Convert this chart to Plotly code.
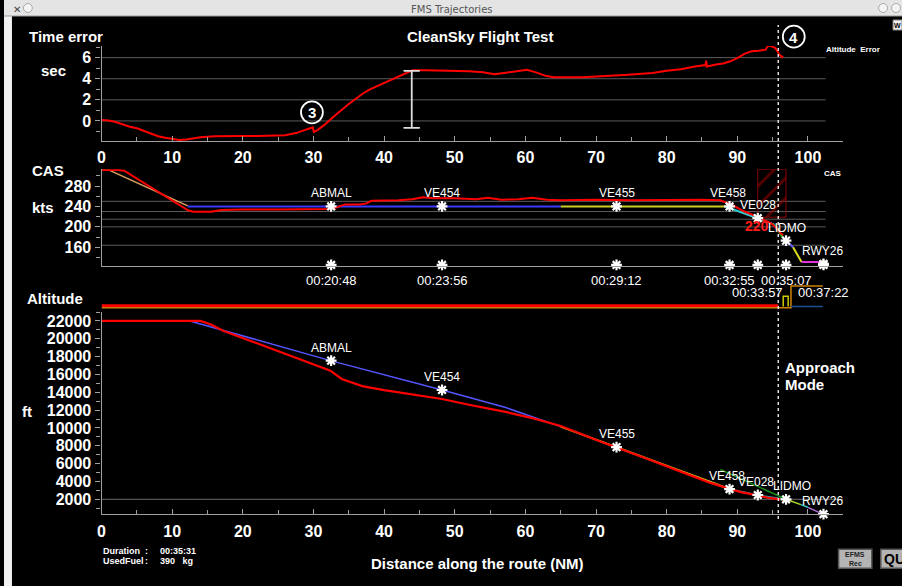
import plotly.graph_objects as go

W, H = 902, 586
def px(v): return v / W
def py(v): return 1 - v / H

# ---------------- data ----------------
te_x = [0, 1, 2, 3, 4, 5, 6, 7, 8, 9, 10, 11, 12, 13, 14, 16, 18, 20, 22, 24, 26, 27.5, 29, 29.9, 30.05,
        30.6, 31.5, 33, 35, 37, 38, 40, 41.5, 43, 44, 46, 48, 50, 52, 54, 55.6, 57, 59, 60.2, 61.5, 63, 64,
        66, 68, 70, 72, 74, 76, 78, 80, 82, 84, 85.5, 85.6, 85.7, 87, 88, 89, 90, 91, 92, 93, 94, 94.4,
        94.7, 95.4, 96, 96.5]
te_y = [0.1, 0.05, -0.1, -0.35, -0.55, -0.7, -0.95, -1.2, -1.45, -1.6, -1.7, -1.8, -1.75, -1.65, -1.55,
        -1.45, -1.4, -1.42, -1.43, -1.42, -1.35, -1.15, -0.85, -0.6, -1.05, -0.85, -0.4, 0.5, 1.6, 2.6,
        3.0, 3.6, 4.1, 4.55, 4.8, 4.8, 4.78, 4.75, 4.7, 4.62, 4.42, 4.55, 4.75, 4.85, 4.6, 4.25, 4.15,
        4.12, 4.15, 4.2, 4.25, 4.35, 4.45, 4.55, 4.75, 4.9, 5.15, 5.3, 5.7, 5.15, 5.35, 5.45, 5.65, 5.95,
        6.35, 6.6, 6.65, 6.75, 7.2, 7.1, 6.9, 6.25, 6.0]
errbar_x = [43.9]
errbar_top = [4.76]
errbar_bottom = [-0.64]

cas_x = [0, 2.3, 3.2, 12.3, 13.0, 14.0, 15.5, 17, 20, 25, 30, 32, 33, 34.5, 36.5, 37.5, 38.2, 42, 44,
         45.5, 47, 50, 53, 54.7, 56.6, 59, 61, 63, 65, 70, 75, 80, 85, 87.6, 89.4, 91, 93, 94.9, 95.6,
         96.1, 96.5]
cas_y = [311.5, 311.5, 310, 232, 229.5, 230, 229.5, 233, 234, 234, 234, 235, 237, 244, 244, 246, 251,
         252, 254, 258, 256, 256, 254, 257, 253, 254, 257, 253, 252, 253, 252, 253, 253, 252, 242, 230,
         219, 206, 197, 188, 184]

cas_orange_x, cas_orange_y = [1.0, 12.2], [311.5, 241]
cas_green0_x, cas_green0_y = [0, 1.0], [311.5, 311.5]
cas_blue_x, cas_blue_y = [12.2, 65.0], [240, 240]
cas_yellow_x, cas_yellow_y = [65.0, 88.3], [240, 240]
cas_cyan_x, cas_cyan_y = [88.3, 92.9, 95.2], [240, 217, 205]
cas_green_x, cas_green_y = [95.2, 96.5], [205, 178]
cas_violet_x, cas_violet_y = [96.5, 97.9], [178, 160]
cas_yellow2_x, cas_yellow2_y = [97.9, 99.1], [160, 131]
cas_magenta_x, cas_magenta_y = [99.1, 102.2], [131, 131]
cas_grid = [250, 230, 215, 200, 164]
constraint_box_x = [92.9, 96.9]
constraint_box_y = [219, 312.5]

alt_x = [0, 14, 15.5, 17.2, 21.4, 25, 28.5, 32.4, 34, 36.9, 40, 44, 48.2, 52, 57, 61, 65, 70.7, 73,
         77.7, 82, 86, 88.8, 90.5, 92.7, 94.5, 96.1]
alt_y = [22000, 22000, 21600, 20900, 19680, 18600, 17625, 16425, 15500, 14700, 14250, 13750, 13250,
         12600, 11830, 11100, 10220, 8460, 7800, 6400, 5100, 3900, 3200, 2800, 2460, 2150, 2000]
alt_blue_x, alt_blue_y = [12.5, 32.4, 48.2, 57.1, 65.0], [22000, 17550, 14260, 12320, 10150]
alt_yellow_x, alt_yellow_y = [65.0, 72.9, 88.9], [10150, 7850, 3150]
alt_dkgreen_x, alt_dkgreen_y = [87.6, 96.9], [5340, 2000]
alt_teal_x, alt_teal_y = [88.9, 92.9, 96.9], [3150, 2480, 2000]
alt_lime_x, alt_lime_y = [96.9, 99.0], [2000, 1400]
alt_cyan_x, alt_cyan_y = [99.0, 100.0], [1400, 1100]
alt_violet_x, alt_violet_y = [100.0, 102.1], [1100, 330]

strip_orange_x, strip_orange_y = [0, 97.6, 97.6, 102.1], [-0.12, -0.12, 2, 2]
strip_yellow_x, strip_yellow_y = [96.5, 96.5, 97.2, 97.2], [0, 1, 1, 0]
strip_blue_x, strip_blue_y = [97.6, 102.1], [0, 0]
strip_red_x, strip_red_y = [0, 95.8], [0.08, 0.08]

wp_names = ["ABMAL", "VE454", "VE455", "VE458", "VE028", "LIDMO", "RWY26"]
wp_x = [32.5, 48.2, 72.9, 88.9, 92.9, 96.9, 102.2]
wp_cas = [240, 240, 240, 240, 217, 173, 127.5]
wp_alt = [17550, 14260, 7850, 3150, 2480, 2000, 330]
wp_time = ["00:20:48", "00:23:56", "00:29:12", "00:32:55", "00:33:57", "00:35:07", "00:37:22"]
wp_time_row = [0, 0, 0, 0, 1, 0, 1]
cas_label_dx = [0, 0, 0, -0.2, 0, 0.1, -0.1]
alt_label_dx = [0, 0, 0, -0.3, -0.2, 0.8, -0.1]

te_grid = [0, 2, 4, 6]
alt_grid = [2000]
approach_x = 95.8
grid_end = 102.5
X_MAX = 105

# ---------------- figure ----------------
fig = go.Figure()
RED = "#ff0000"
WHITE = "white"
STAR = dict(symbol="asterisk-open", size=9, color=WHITE, line=dict(color=WHITE, width=2.2))

def line(x, y, color, width, xa="x", ya="y", dash=None):
    fig.add_trace(go.Scatter(x=x, y=y, mode="lines", xaxis=xa, yaxis=ya, hoverinfo="skip",
                             line=dict(color=color, width=width, dash=dash), showlegend=False))

# Top panel
line(te_x, te_y, RED, 2)
fig.add_trace(go.Scatter(x=errbar_x, y=errbar_top, mode="markers", xaxis="x", yaxis="y",
                         marker=dict(size=1, color="rgba(0,0,0,0)"), showlegend=False, hoverinfo="skip",
                         error_y=dict(type="data", symmetric=False, array=[0],
                                      arrayminus=[errbar_top[0] - errbar_bottom[0]],
                                      color="#dddddd", thickness=1.5, width=8)))
fig.add_trace(go.Scatter(x=errbar_x, y=errbar_bottom, mode="markers", xaxis="x", yaxis="y",
                         marker=dict(size=1, color="rgba(0,0,0,0)"), showlegend=False, hoverinfo="skip",
                         error_y=dict(type="data", symmetric=False, array=[errbar_top[0] - errbar_bottom[0]],
                                      arrayminus=[0], color="#dddddd", thickness=1.5, width=8)))

# CAS panel
fig.add_trace(go.Scatter(
    x=[constraint_box_x[0], constraint_box_x[1], constraint_box_x[1], constraint_box_x[0], constraint_box_x[0]],
    y=[constraint_box_y[1], constraint_box_y[1], constraint_box_y[0], constraint_box_y[0], constraint_box_y[1]],
    mode="lines", fill="toself", xaxis="x2", yaxis="y2", hoverinfo="skip", showlegend=False,
    line=dict(color="#8b0000", width=1), fillcolor="rgba(0,0,0,0)",
    fillpattern=dict(shape="/", fgcolor="#b00000", bgcolor="rgba(0,0,0,0)", size=14, solidity=0.2)))
line(cas_green0_x, cas_green0_y, "#22aa22", 2, "x2", "y2")
line(cas_orange_x, cas_orange_y, "#e0a060", 1.5, "x2", "y2")
line(cas_blue_x, cas_blue_y, "#3a3aff", 2, "x2", "y2")
line(cas_yellow_x, cas_yellow_y, "#cccc22", 2, "x2", "y2")
line(cas_cyan_x, cas_cyan_y, "#33cccc", 2, "x2", "y2")
line(cas_green_x, cas_green_y, "#22cc22", 2, "x2", "y2")
line(cas_violet_x, cas_violet_y, "#6060ff", 2, "x2", "y2")
line(cas_yellow2_x, cas_yellow2_y, "#dddd22", 2, "x2", "y2")
line(cas_magenta_x, cas_magenta_y, "#dd33dd", 2, "x2", "y2")
line(cas_x, cas_y, RED, 2, "x2", "y2")
fig.add_trace(go.Scatter(x=wp_x, y=wp_cas, mode="markers", xaxis="x2", yaxis="y2", cliponaxis=False,
                         marker=STAR, showlegend=False, hoverinfo="skip"))
fig.add_trace(go.Scatter(x=wp_x, y=[125.5] * len(wp_x), mode="markers", xaxis="x2", yaxis="y2",
                         cliponaxis=False, marker=STAR, showlegend=False, hoverinfo="skip"))

# Mode strip
line(strip_orange_x, strip_orange_y, "#d08000", 1.5, "x4", "y4")
line(strip_blue_x, strip_blue_y, "#1f4f8f", 1.5, "x4", "y4")
line(strip_yellow_x, strip_yellow_y, "#cccc00", 1.5, "x4", "y4")
line(strip_red_x, strip_red_y, RED, 2.6, "x4", "y4")

# Altitude panel
line(alt_blue_x, alt_blue_y, "#5555ff", 1.5, "x3", "y3")
line(alt_yellow_x, alt_yellow_y, "#dddd22", 2, "x3", "y3")
line(alt_dkgreen_x, alt_dkgreen_y, "#1a8a1a", 1.5, "x3", "y3")
line(alt_teal_x, alt_teal_y, "#2a9aa0", 1.5, "x3", "y3")
line(alt_lime_x, alt_lime_y, "#aadd22", 1.5, "x3", "y3")
line(alt_cyan_x, alt_cyan_y, "#33cccc", 1.5, "x3", "y3")
line(alt_violet_x, alt_violet_y, "#b070d0", 1.5, "x3", "y3")
line(alt_x, alt_y, RED, 2.2, "x3", "y3")
fig.add_trace(go.Scatter(x=wp_x, y=wp_alt, mode="markers", xaxis="x3", yaxis="y3", cliponaxis=False,
                         marker=STAR, showlegend=False, hoverinfo="skip"))

# ---------------- shapes ----------------
shapes = []
GRID = "#5c5c5c"
for g in te_grid:
    shapes.append(dict(type="line", xref="x", yref="y", x0=0, x1=grid_end, y0=g, y1=g,
                       line=dict(color=GRID, width=1), layer="below"))
for g in cas_grid:
    shapes.append(dict(type="line", xref="x2", yref="y2", x0=0, x1=grid_end, y0=g, y1=g,
                       line=dict(color=GRID, width=1), layer="below"))
for g in alt_grid:
    shapes.append(dict(type="line", xref="x3", yref="y3", x0=0, x1=X_MAX, y0=g, y1=g,
                       line=dict(color="#6a6a6a", width=1), layer="below"))
# approach mode vertical dotted line
shapes.append(dict(type="line", xref="x", yref="paper", x0=approach_x, x1=approach_x,
                   y0=py(519), y1=py(25), line=dict(color="#e0e0e0", width=1.5, dash="dot")))
# title bar & window frame
shapes.append(dict(type="rect", xref="paper", yref="paper", x0=0, x1=1, y0=py(16), y1=1,
                   fillcolor="#e4e4e4", line=dict(width=0), layer="below"))
shapes.append(dict(type="line", xref="paper", yref="paper", x0=0, x1=1, y0=py(16), y1=py(16),
                   line=dict(color="#9a9a9a", width=1)))
shapes.append(dict(type="rect", xref="paper", yref="paper", x0=0, x1=px(8), y0=0, y1=py(16),
                   fillcolor="#f2f2f2", line=dict(width=0), layer="below"))
for cx in [24, 883, 896]:
    shapes.append(dict(type="circle", xref="paper", yref="paper", x0=px(cx - 4.5), x1=px(cx + 4.5),
                       y0=py(12.5), y1=py(3.5), line=dict(color="#aaaaaa", width=1), fillcolor="#f4f4f4"))
# numbered circles
for (cx, cy) in [(309.3, 112.3), (793.3, 36.7)]:
    shapes.append(dict(type="circle", xref="paper", yref="paper", x0=px(cx - 11), x1=px(cx + 11),
                       y0=py(cy + 11), y1=py(cy - 11), line=dict(color=WHITE, width=1.8)))
# buttons
shapes.append(dict(type="rect", xref="paper", yref="paper", x0=px(838.3), x1=px(871.7), y0=py(568.3),
                   y1=py(549.3), fillcolor="#b4b4b4", line=dict(color="#555555", width=1.5)))
shapes.append(dict(type="rect", xref="paper", yref="paper", x0=px(880.7), x1=px(905), y0=py(568.3),
                   y1=py(549.3), fillcolor="#b4b4b4", line=dict(color="#555555", width=1.5)))
shapes.append(dict(type="rect", xref="paper", yref="paper", x0=px(893), x1=px(902), y0=py(30),
                   y1=py(20), fillcolor="#f0f0f0", line=dict(color="#888888", width=1)))

# ---------------- annotations ----------------
ann = []
def text(xp, yp, s, size=15, color=WHITE, bold=True, xanchor="center", family="Liberation Sans"):
    ann.append(dict(xref="paper", yref="paper", x=px(xp), y=py(yp), text=s, showarrow=False,
                    xanchor=xanchor, yanchor="middle",
                    font=dict(size=size, color=color, family=family, weight="bold" if bold else "normal")))

text(450, 9, "FMS Trajectories", size=10, color="#555555", bold=False, family="DejaVu Sans")
text(13, 9, "✕", size=10, color="#444444", bold=False, family="DejaVu Sans")
text(897.5, 25.5, "W", size=7, color="#000000")
text(62, 36.5, "Time error", size=15)
text(478, 36.5, "CleanSky Flight Test", size=15)
text(49.5, 70, "sec", size=15)
text(309.3, 113, "3", size=15)
text(793.3, 37.5, "4", size=15)
text(824, 49.5, "Altitude&nbsp;&nbsp;Error", size=8, xanchor="left")
text(832.7, 173.5, "CAS", size=8)
text(44, 170.5, "CAS", size=15)
text(38.7, 207.5, "kts", size=15)
text(51, 298.5, "Altitude", size=15)
text(23, 411.7, "ft", size=15)
text(782, 367.3, "Approach", size=15, xanchor="left")
text(782, 384, "Mode", size=15, xanchor="left")
text(476, 563, "Distance along the route (NM)", size=15)
text(97.5, 550.7, "Duration", size=9, xanchor="left")
text(97.5, 560.7, "UsedFuel", size=9, xanchor="left")
text(143.3, 550.7, ":", size=9)
text(143.3, 560.7, ":", size=9)
text(154.3, 550.7, "00:35:31", size=9, xanchor="left")
text(154.3, 560.7, "390&nbsp;&nbsp;&nbsp;kg", size=9, xanchor="left")
text(855, 554, "EFMS", size=7, color="#222222")
text(855, 563, "Rec", size=7, color="#222222")
text(882, 559, "QUI", size=14, color="#000000", xanchor="left")

LBL = dict(size=12, color=WHITE, family="Liberation Sans")
for i, name in enumerate(wp_names):
    ann.append(dict(xref="x2", yref="y2", x=wp_x[i] + cas_label_dx[i], y=wp_cas[i], yshift=13,
                    text=name, showarrow=False, xanchor="center", yanchor="middle", font=LBL))
    ann.append(dict(xref="x3", yref="y3", x=wp_x[i] + alt_label_dx[i], y=wp_alt[i], yshift=13,
                    text=name, showarrow=False, xanchor="center", yanchor="middle", font=LBL))
    ann.append(dict(xref="x2", yref="paper", x=wp_x[i], y=py(280 + 12 * wp_time_row[i]),
                    text=wp_time[i], showarrow=False, xanchor="center", yanchor="middle",
                    font=dict(size=13, color=WHITE, family="Liberation Sans")))
ann.append(dict(xref="x2", yref="paper", x=92.8, y=py(225.7), text="220", showarrow=False,
                xanchor="center", yanchor="middle",
                font=dict(size=14, color="#ff1a1a", family="Liberation Sans", weight="bold")))

# ---------------- axes ----------------
X_DOM = [px(98), px(843)]
AX = "#a0a0a0"
TICKFONT = dict(size=16, color=WHITE, family="Liberation Sans", weight="bold")

def xax(anchor, labels=True, ticks=True):
    d = dict(domain=X_DOM, range=[0, X_MAX], anchor=anchor, showgrid=False, zeroline=False,
             showline=True, linecolor=AX, linewidth=1.2, fixedrange=True,
             tickmode="array", tickvals=list(range(0, 101, 10)), showticklabels=labels,
             tickfont=TICKFONT, ticklabelstandoff=2)
    if ticks:
        d.update(ticks="inside", ticklen=5, tickcolor=AX, tickwidth=1,
                 minor=dict(tickmode="array", tickvals=list(range(5, 106, 10)), ticks="inside",
                            ticklen=4, tickcolor=AX, tickwidth=1))
    else:
        d.update(ticks="")
    return d

def yax(dom, rng, tickvals, minorvals, anchor):
    return dict(domain=dom, range=rng, anchor=anchor, showgrid=False, zeroline=False, showline=True,
                linecolor=AX, linewidth=1.2, fixedrange=True, tickmode="array", tickvals=tickvals,
                ticktext=[str(v) for v in tickvals],
                ticks="outside", ticklen=5, tickcolor=AX, tickfont=TICKFONT, ticklabelstandoff=1,
                minor=dict(tickmode="array", tickvals=minorvals, ticks="outside", ticklen=4,
                           tickcolor=AX))

fig.update_layout(
    width=W, height=H, margin=dict(l=0, r=0, t=0, b=0),
    paper_bgcolor="black", plot_bgcolor="rgba(0,0,0,0)", showlegend=False,
    xaxis=xax("y"),
    yaxis=yax([py(141), py(46)], [-1.9, 7.1], te_grid, [-1, 1, 3, 5, 7], "x"),
    xaxis2=xax("y2", labels=False, ticks=False),
    yaxis2=yax([py(266), py(169.3)], [123.4, 312.7], [160, 200, 240, 280],
               [140, 180, 220, 260, 300], "x2"),
    xaxis3=xax("y3"),
    yaxis3=yax([py(514.3), py(311.7)], [317, 23040], list(range(2000, 22001, 2000)),
               list(range(1000, 23001, 2000)), "x3"),
    xaxis4=dict(domain=X_DOM, range=[0, X_MAX], anchor="y4", visible=False, fixedrange=True),
    yaxis4=dict(domain=[py(312), py(282)], range=[-0.54, 2.39], anchor="x4", visible=False,
                fixedrange=True),
    shapes=shapes, annotations=ann,
)

fig.write_html("out.html", config={"displayModeBar": False})
